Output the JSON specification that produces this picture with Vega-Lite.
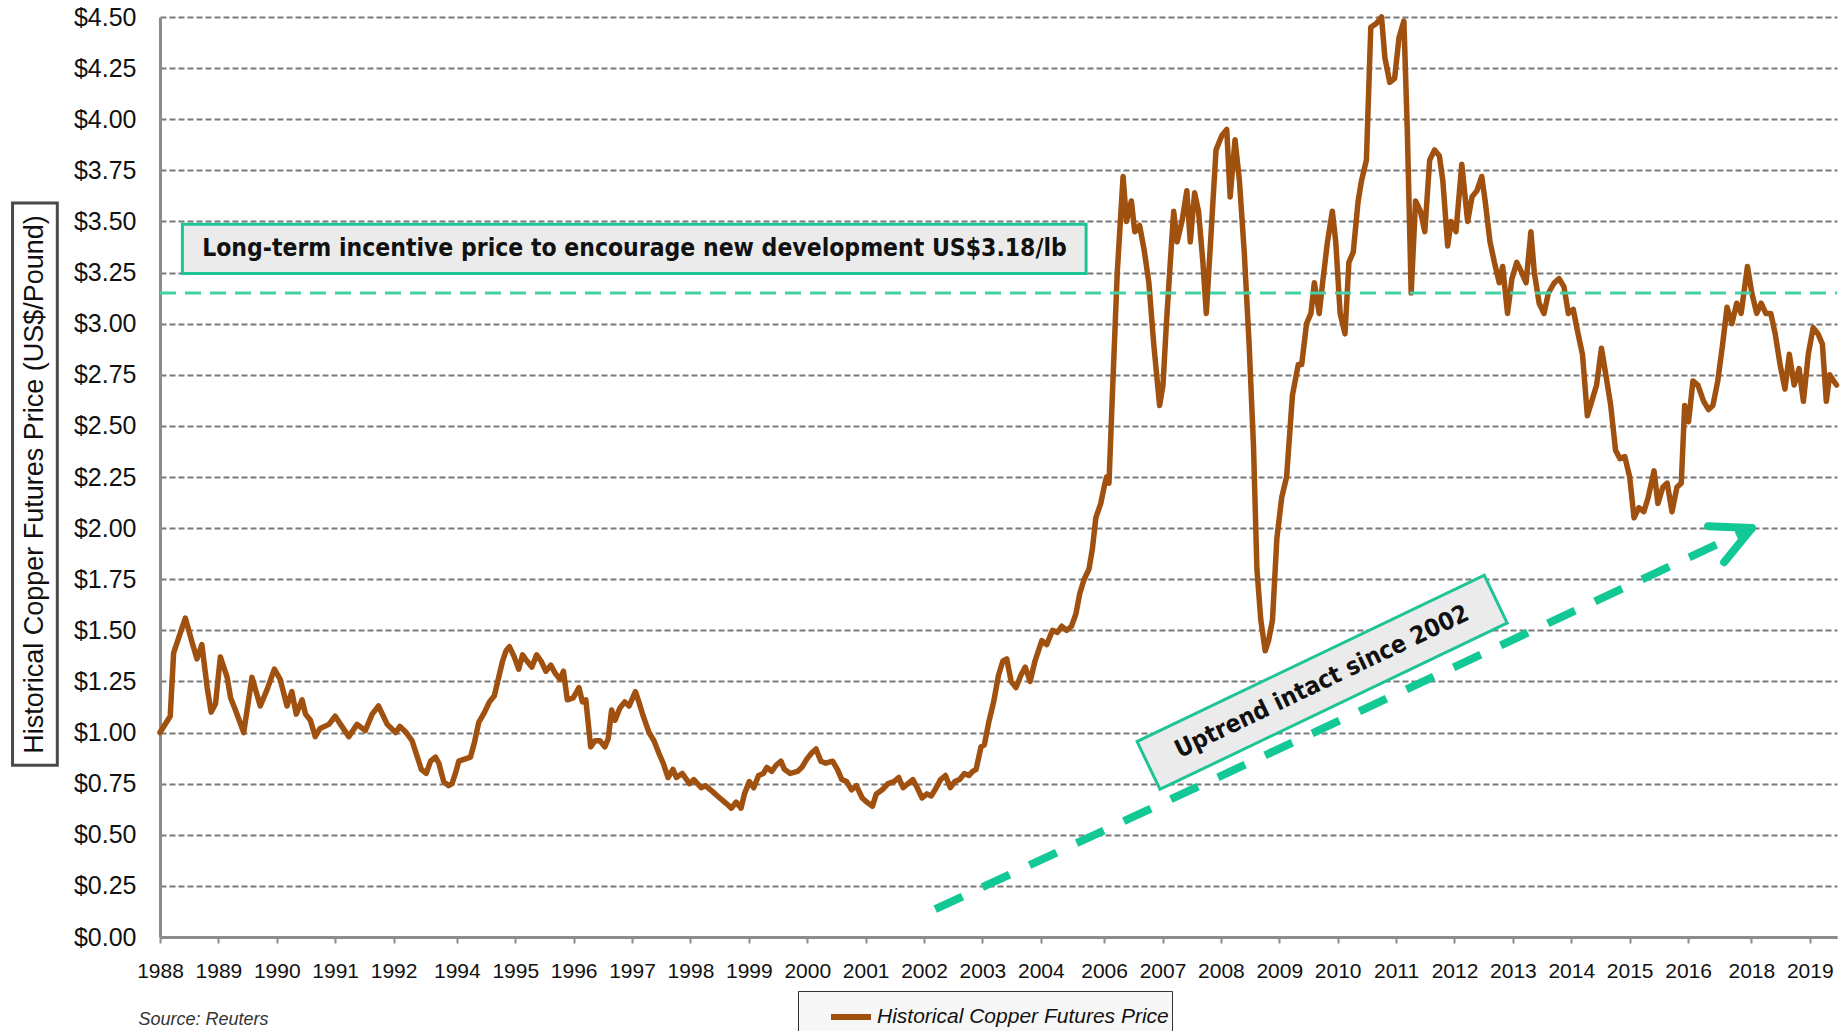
{
  "$schema": "https://vega.github.io/schema/vega-lite/v6.json",
  "width": 1677,
  "height": 920,
  "autosize": {"type": "none"},
  "padding": {"left": 160, "top": 17, "right": 7, "bottom": 94},
  "background": "white",
  "config": {"view": {"stroke": null}},
  "encoding": {
    "x": {
      "field": "month",
      "type": "quantitative",
      "scale": {"domain": [0, 344.6], "nice": false, "zero": false},
      "axis": {
        "title": null,
        "grid": false,
        "values": [0, 12, 24, 36, 48, 61, 73, 85, 97, 109, 121, 133, 145, 157, 169, 181, 194, 206, 218, 230, 242, 254, 266, 278, 290, 302, 314, 327, 339],
        "labelExpr": "{'0':'1988','12':'1989','24':'1990','36':'1991','48':'1992','61':'1994','73':'1995','85':'1996','97':'1997','109':'1998','121':'1999','133':'2000','145':'2001','157':'2002','169':'2003','181':'2004','194':'2006','206':'2007','218':'2008','230':'2009','242':'2010','254':'2011','266':'2012','278':'2013','290':'2014','302':'2015','314':'2016','327':'2018','339':'2019'}[datum.value]",
        "domainColor": "#8c8c8c",
        "domainWidth": 3,
        "tickColor": "#8c8c8c",
        "tickWidth": 2,
        "tickSize": 6,
        "labelFont": "Liberation Sans",
        "labelFontSize": 21,
        "labelColor": "#111111",
        "labelPadding": 17,
        "labelFlush": false,
        "labelOverlap": false
      }
    },
    "y": {
      "field": "price",
      "type": "quantitative",
      "scale": {"domain": [0, 4.5], "nice": false, "zero": true},
      "axis": {
        "values": [0, 0.25, 0.5, 0.75, 1, 1.25, 1.5, 1.75, 2, 2.25, 2.5, 2.75, 3, 3.25, 3.5, 3.75, 4, 4.25, 4.5],
        "format": "$.2f",
        "grid": true,
        "gridColor": "#7a7a7a",
        "gridDash": [6, 3],
        "gridWidth": 2,
        "domainColor": "#8c8c8c",
        "domainWidth": 3,
        "ticks": false,
        "labelFont": "Liberation Sans",
        "labelFontSize": 25,
        "labelColor": "#111111",
        "labelPadding": 24,
        "title": "Historical Copper Futures Price (US$/Pound)",
        "titleFont": "Liberation Sans",
        "titleFontSize": 27,
        "titleFontWeight": "normal",
        "titleColor": "#111111",
        "titleX": -125.5,
        "titleY": 467,
        "titleAngle": 270,
        "titleAlign": "center",
        "titleBaseline": "middle"
      }
    }
  },
  "layer": [
    {
      "data": {"values": [{"month": -30.3, "month2": -21.1, "price": 0.84, "price2": 3.59}]},
      "mark": {"type": "rect", "fill": "transparent", "stroke": "#4a4a4a", "strokeWidth": 3},
      "encoding": {"x2": {"field": "month2"}, "y2": {"field": "price2"}}
    },
    {
      "data": {"values": [
        {"month":0,"price":1.00},{"month":2.1,"price":1.08},{"month":2.8,"price":1.39},{"month":5.2,"price":1.56},{"month":6.6,"price":1.44},{"month":7.6,"price":1.36},{"month":8.6,"price":1.43},{"month":9.7,"price":1.22},{"month":10.5,"price":1.10},{"month":11.4,"price":1.14},{"month":12.4,"price":1.37},{"month":13.8,"price":1.27},{"month":14.5,"price":1.17},{"month":15.5,"price":1.11},{"month":17.2,"price":1.00},{"month":18.9,"price":1.27},{"month":20.6,"price":1.13},{"month":22.0,"price":1.21},{"month":23.5,"price":1.31},{"month":24.7,"price":1.26},{"month":26.1,"price":1.13},{"month":27.1,"price":1.20},{"month":28.0,"price":1.09},{"month":29.2,"price":1.16},{"month":29.9,"price":1.09},{"month":30.9,"price":1.06},{"month":31.9,"price":0.98},{"month":32.9,"price":1.02},{"month":34.7,"price":1.04},{"month":36.0,"price":1.08},{"month":37.1,"price":1.04},{"month":38.8,"price":0.98},{"month":40.5,"price":1.04},{"month":42.2,"price":1.01},{"month":43.6,"price":1.09},{"month":44.9,"price":1.13},{"month":46.7,"price":1.04},{"month":48.4,"price":1.00},
        {"month":49.3,"price":1.03},{"month":50.6,"price":1.00},{"month":51.8,"price":0.96},{"month":53.7,"price":0.82},{"month":54.7,"price":0.80},{"month":55.6,"price":0.86},{"month":56.6,"price":0.88},{"month":57.3,"price":0.85},{"month":58.3,"price":0.76},{"month":59.3,"price":0.74},{"month":60.0,"price":0.75},{"month":60.7,"price":0.80},{"month":61.4,"price":0.86},{"month":62.6,"price":0.87},{"month":63.8,"price":0.88},{"month":64.6,"price":0.95},{"month":65.5,"price":1.05},{"month":66.7,"price":1.10},{"month":67.7,"price":1.15},{"month":68.7,"price":1.18},{"month":69.4,"price":1.25},{"month":70.4,"price":1.35},{"month":71.1,"price":1.40},{"month":71.8,"price":1.42},{"month":72.8,"price":1.37},{"month":73.7,"price":1.31},{"month":74.5,"price":1.38},{"month":75.4,"price":1.35},{"month":76.4,"price":1.32},{"month":77.4,"price":1.38},{"month":78.3,"price":1.35},{"month":79.3,"price":1.30},{"month":80.3,"price":1.33},{"month":81.2,"price":1.29},{"month":82.2,"price":1.26},{"month":82.9,"price":1.30},{"month":83.7,"price":1.16},{"month":84.9,"price":1.17},{"month":86.1,"price":1.22},{"month":86.8,"price":1.15},{"month":87.5,"price":1.16},{"month":88.5,"price":0.93},{"month":89.4,"price":0.96},{"month":90.4,"price":0.96},{"month":91.4,"price":0.93},{"month":92.1,"price":0.97},{"month":92.8,"price":1.11},{"month":93.5,"price":1.06},{"month":94.5,"price":1.12},{"month":95.5,"price":1.15},{"month":96.4,"price":1.13},{"month":97.7,"price":1.20},{"month":98.4,"price":1.15},{"month":99.3,"price":1.08},{"month":100.5,"price":1.00},{"month":101.5,"price":0.96},{"month":102.5,"price":0.90},{"month":103.4,"price":0.85},{"month":104.4,"price":0.78},{"month":105.4,"price":0.82},{"month":106.1,"price":0.78},{"month":107.3,"price":0.80},{"month":108.8,"price":0.75},{"month":109.7,"price":0.77},{"month":111.2,"price":0.73},{"month":112.1,"price":0.74},{"month":113.6,"price":0.71},{"month":115.0,"price":0.68},{"month":116.5,"price":0.65},{"month":117.4,"price":0.63},{"month":118.4,"price":0.66},{"month":119.4,"price":0.63},{"month":120.1,"price":0.70},{"month":121.1,"price":0.76},{"month":122.0,"price":0.73},{"month":123.0,"price":0.79},{"month":124.0,"price":0.80},{"month":124.7,"price":0.83},{"month":125.7,"price":0.81},{"month":126.6,"price":0.84},{"month":127.6,"price":0.86},{"month":128.3,"price":0.82},{"month":129.5,"price":0.80},{"month":131.0,"price":0.81},{"month":131.9,"price":0.83},{"month":132.9,"price":0.87},{"month":133.9,"price":0.90},{"month":134.8,"price":0.92},{"month":135.8,"price":0.86},{"month":136.8,"price":0.85},{"month":138.2,"price":0.86},{"month":139.2,"price":0.82},{"month":140.1,"price":0.77},{"month":141.1,"price":0.76},{"month":142.1,"price":0.72},{"month":143.1,"price":0.74},{"month":144.3,"price":0.68},{"month":145.2,"price":0.66},{"month":146.4,"price":0.64},{"month":147.2,"price":0.70},{"month":148.4,"price":0.72},{"month":149.6,"price":0.75},{"month":150.8,"price":0.76},{"month":151.8,"price":0.78},{"month":152.7,"price":0.73},{"month":153.7,"price":0.75},{"month":154.7,"price":0.77},{"month":155.6,"price":0.73},{"month":156.6,"price":0.68},{"month":157.6,"price":0.70},{"month":158.5,"price":0.69},{"month":159.5,"price":0.73},{"month":160.4,"price":0.77},{"month":161.4,"price":0.79},{"month":162.4,"price":0.73},{"month":163.3,"price":0.76},{"month":164.3,"price":0.77},{"month":165.3,"price":0.80},{"month":166.2,"price":0.79},{"month":167.0,"price":0.81},{"month":167.7,"price":0.82},{"month":168.7,"price":0.93},{"month":169.4,"price":0.94},{"month":170.3,"price":1.05},{"month":171.3,"price":1.15},{"month":172.3,"price":1.28},{"month":173.2,"price":1.35},{"month":174.0,"price":1.36},{"month":174.9,"price":1.25},{"month":175.9,"price":1.22},{"month":176.9,"price":1.28},{"month":177.8,"price":1.32},{"month":178.8,"price":1.25},{"month":179.8,"price":1.35},{"month":180.5,"price":1.40},{"month":181.2,"price":1.45},{"month":182.2,"price":1.43},{"month":183.4,"price":1.50},{"month":184.4,"price":1.49},{"month":185.3,"price":1.52},{"month":186.3,"price":1.50},{"month":187.3,"price":1.52},{"month":188.2,"price":1.58},{"month":189.0,"price":1.68},{"month":189.9,"price":1.75},{"month":190.9,"price":1.80},{"month":191.6,"price":1.90},{"month":192.3,"price":2.05},{"month":193.3,"price":2.12},{"month":194.0,"price":2.20},{"month":194.5,"price":2.25},{"month":195.0,"price":2.22},{"month":195.7,"price":2.65},{"month":196.7,"price":3.25},{"month":197.9,"price":3.72},{"month":198.6,"price":3.50},{"month":199.6,"price":3.60},{"month":200.3,"price":3.45},{"month":201.3,"price":3.48},{"month":202.3,"price":3.35},{"month":203.2,"price":3.20},{"month":204.2,"price":2.90},{"month":205.4,"price":2.60},{"month":206.1,"price":2.70},{"month":206.8,"price":3.00},{"month":207.6,"price":3.30},{"month":208.3,"price":3.55},{"month":209.0,"price":3.40},{"month":210.0,"price":3.50},{"month":211.0,"price":3.65},{"month":211.7,"price":3.40},{"month":212.6,"price":3.64},{"month":213.4,"price":3.55},{"month":214.3,"price":3.30},{"month":215.0,"price":3.05},{"month":216.0,"price":3.45},{"month":217.0,"price":3.85},{"month":218.2,"price":3.92},{"month":219.2,"price":3.95},{"month":219.9,"price":3.62},{"month":220.9,"price":3.90},{"month":221.8,"price":3.70},{"month":222.8,"price":3.35},{"month":223.8,"price":2.90},{"month":224.7,"price":2.40},{"month":225.4,"price":1.80},{"month":226.2,"price":1.55},{"month":227.1,"price":1.40},{"month":227.8,"price":1.45},{"month":228.6,"price":1.55},{"month":229.5,"price":1.95},{"month":230.5,"price":2.15},{"month":231.5,"price":2.25},{"month":232.7,"price":2.65},{"month":233.9,"price":2.80},{"month":234.6,"price":2.80},{"month":235.6,"price":3.00},{"month":236.5,"price":3.05},{"month":237.2,"price":3.20},{"month":238.2,"price":3.05},{"month":238.9,"price":3.20},{"month":239.9,"price":3.40},{"month":240.9,"price":3.55},{"month":241.6,"price":3.40},{"month":242.5,"price":3.05},{"month":243.5,"price":2.95},{"month":244.3,"price":3.30},{"month":245.2,"price":3.35},{"month":246.2,"price":3.60},{"month":246.9,"price":3.70},{"month":247.9,"price":3.80},{"month":248.8,"price":4.45},{"month":250.0,"price":4.47},{"month":251.0,"price":4.50},{"month":251.7,"price":4.30},{"month":252.7,"price":4.18},{"month":253.7,"price":4.20},{"month":254.6,"price":4.40},{"month":255.6,"price":4.48},{"month":256.3,"price":3.95},{"month":257.1,"price":3.15},{"month":258.0,"price":3.60},{"month":259.0,"price":3.55},{"month":259.9,"price":3.45},{"month":260.9,"price":3.80},{"month":261.9,"price":3.85},{"month":262.9,"price":3.82},{"month":263.6,"price":3.70},{"month":264.6,"price":3.38},{"month":265.3,"price":3.50},{"month":266.3,"price":3.45},{"month":267.5,"price":3.78},{"month":268.7,"price":3.50},{"month":269.6,"price":3.62},{"month":270.6,"price":3.65},{"month":271.6,"price":3.72},{"month":272.3,"price":3.60},{"month":273.3,"price":3.40},{"month":274.2,"price":3.30},{"month":275.2,"price":3.20},{"month":275.9,"price":3.28},{"month":276.9,"price":3.05},{"month":277.8,"price":3.22},{"month":278.8,"price":3.30},{"month":279.8,"price":3.25},{"month":280.7,"price":3.20},{"month":281.7,"price":3.45},{"month":282.4,"price":3.25},{"month":283.4,"price":3.10},{"month":284.4,"price":3.05},{"month":285.3,"price":3.15},{"month":286.5,"price":3.20},{"month":287.5,"price":3.22},{"month":288.5,"price":3.18},{"month":289.4,"price":3.05},{"month":290.4,"price":3.07},{"month":291.4,"price":2.95},{"month":292.3,"price":2.85},{"month":293.3,"price":2.55},{"month":294.2,"price":2.62},{"month":295.2,"price":2.70},{"month":296.2,"price":2.88},{"month":297.1,"price":2.75},{"month":298.1,"price":2.60},{"month":299.1,"price":2.38},{"month":300.0,"price":2.34},{"month":301.0,"price":2.35},{"month":302.0,"price":2.25},{"month":302.9,"price":2.05},{"month":303.9,"price":2.10},{"month":304.9,"price":2.08},{"month":305.8,"price":2.15},{"month":307.0,"price":2.28},{"month":307.8,"price":2.12},{"month":308.8,"price":2.20},{"month":309.7,"price":2.22},{"month":310.7,"price":2.08},{"month":311.7,"price":2.20},{"month":312.6,"price":2.22},{"month":313.3,"price":2.60},{"month":314.1,"price":2.52},{"month":315.0,"price":2.72},{"month":316.0,"price":2.70},{"month":317.2,"price":2.62},{"month":318.2,"price":2.58},{"month":319.1,"price":2.60},{"month":320.1,"price":2.72},{"month":321.1,"price":2.90},{"month":322.0,"price":3.08},{"month":323.0,"price":3.00},{"month":324.0,"price":3.10},{"month":324.9,"price":3.05},{"month":326.2,"price":3.28},{"month":327.1,"price":3.15},{"month":328.1,"price":3.05},{"month":329.0,"price":3.10},{"month":330.0,"price":3.05},{"month":331.0,"price":3.05},{"month":331.9,"price":2.95},{"month":332.9,"price":2.80},{"month":333.9,"price":2.68},{"month":334.8,"price":2.85},{"month":335.8,"price":2.70},{"month":336.8,"price":2.78},{"month":337.7,"price":2.62},{"month":338.7,"price":2.85},{"month":339.7,"price":2.98},{"month":340.7,"price":2.95},{"month":341.6,"price":2.90},{"month":342.4,"price":2.62},{"month":343.1,"price":2.75},{"month":343.9,"price":2.72},{"month":344.5,"price":2.70}
      ]},
      "mark": {"type": "line", "strokeWidth": 5.5, "strokeJoin": "round", "strokeCap": "round"},
      "encoding": {
        "color": {
          "datum": "Historical Copper Futures Price",
          "type": "nominal",
          "scale": {"range": ["#A0500F"]},
          "legend": {
            "orient": "none",
            "legendX": 638,
            "legendY": 974,
            "title": null,
            "symbolType": "stroke",
            "symbolStrokeWidth": 6,
            "symbolSize": 1600,
            "symbolOffset": 27,
            "labelOffset": 3,
            "labelFont": "Liberation Sans",
            "labelFontSize": 21,
            "labelFontStyle": "italic",
            "labelColor": "#111111",
            "labelLimit": 0,
            "padding": 3,
            "fillColor": "#f7f7f7",
            "strokeColor": "#333333"
          }
        }
      }
    },
    {
      "data": {"values": [{"month": 0, "month2": 344.6, "price": 3.15}]},
      "mark": {"type": "rule", "stroke": "#45d1a5", "strokeWidth": 3, "strokeDash": [16, 9]},
      "encoding": {"x2": {"field": "month2"}}
    },
    {
      "data": {"values": [{"month": 4.6, "month2": 190.3, "price": 3.245, "price2": 3.486}]},
      "mark": {"type": "rect", "fill": "#ebebeb", "stroke": "#1ec496", "strokeWidth": 3},
      "encoding": {"x2": {"field": "month2"}, "y2": {"field": "price2"}}
    },
    {
      "data": {"values": [{"month": 97.5, "price": 3.366, "label": "Long-term incentive price to encourage new development US$3.18/lb"}]},
      "mark": {"type": "text", "font": "DejaVu Sans Condensed", "fontWeight": "bold", "fontSize": 24.5, "color": "#111111", "align": "center", "baseline": "middle"},
      "encoding": {"text": {"field": "label"}}
    },
    {
      "data": {"values": [{"month": 159.3, "price": 0.136, "month2": 327.1, "price2": 2.0}]},
      "mark": {"type": "rule", "stroke": "#12c894", "strokeWidth": 8, "strokeDash": [30, 22]},
      "encoding": {"x2": {"field": "month2"}, "y2": {"field": "price2"}}
    },
    {
      "data": {"values": [
        {"month": 327.1, "price": 2.0, "month2": 318.1, "price2": 2.009},
        {"month": 327.1, "price": 2.0, "month2": 321.4, "price2": 1.833}
      ]},
      "mark": {"type": "rule", "stroke": "#12c894", "strokeWidth": 8, "strokeCap": "round"},
      "encoding": {"x2": {"field": "month2"}, "y2": {"field": "price2"}}
    },
    {
      "data": {"values": [{"month": 238.8, "price": 1.246}]},
      "mark": {"type": "point", "shape": "M-1,-0.1377L1,-0.1377L1,0.1377L-1,0.1377Z", "size": 148225, "angle": 334.4, "filled": true, "fill": "#ebebeb", "fillOpacity": 1, "stroke": "#1ec496", "strokeWidth": 3, "opacity": 1},
      "encoding": {}
    },
    {
      "data": {"values": [{"month": 238.8, "price": 1.246, "label": "Uptrend intact since 2002"}]},
      "mark": {"type": "text", "font": "DejaVu Sans Condensed", "fontWeight": "bold", "fontSize": 24.5, "color": "#111111", "align": "center", "baseline": "middle", "angle": 334.4},
      "encoding": {"text": {"field": "label"}}
    },
    {
      "data": {"values": [{"month": -4.44, "price": -0.405, "label": "Source: Reuters"}]},
      "mark": {"type": "text", "font": "Liberation Sans", "fontStyle": "italic", "fontSize": 18, "color": "#333333", "align": "left", "baseline": "middle"},
      "encoding": {"text": {"field": "label"}}
    }
  ]
}
